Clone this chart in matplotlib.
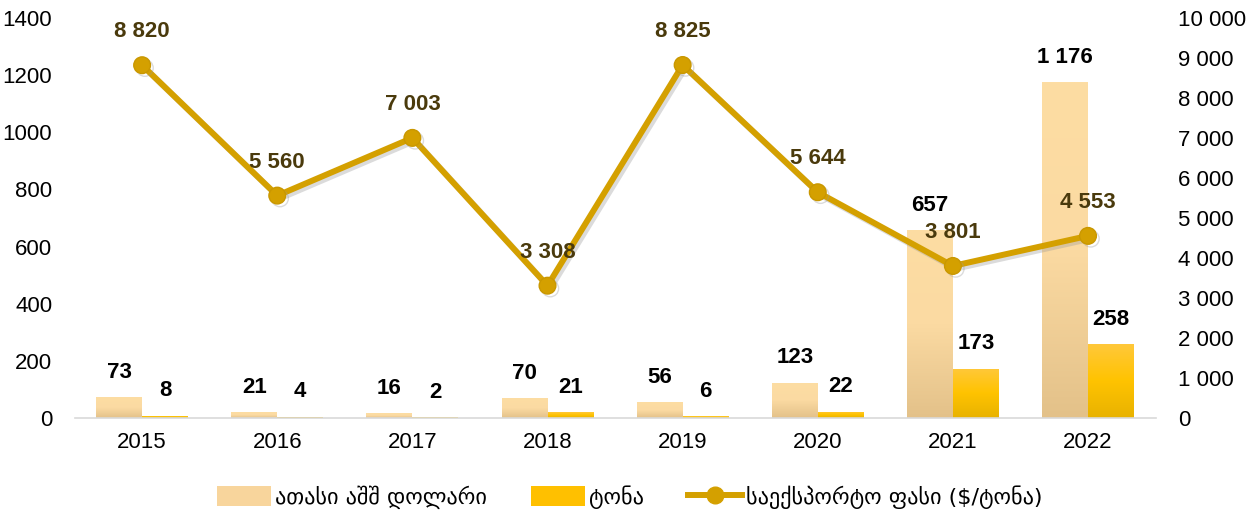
import numpy as np
import matplotlib
matplotlib.use("Agg")
import matplotlib.pyplot as plt
import matplotlib.patheffects as pe
from matplotlib.colors import LinearSegmentedColormap
from matplotlib.patches import Patch
from matplotlib.lines import Line2D

# data
years = ["2015", "2016", "2017", "2018", "2019", "2020", "2021", "2022"]
usd_thousand = [73, 21, 16, 70, 56, 123, 657, 1176]
tons = [8, 4, 2, 21, 6, 22, 173, 258]
price = [8820, 5560, 7003, 3308, 8825, 5644, 3801, 4553]

series_names = ["ათასი აშშ დოლარი", "ტონა", "საექსპორტო ფასი ($/ტონა)"]


def fmt(v):
    return f"{v:,}".replace(",", " ")


plt.rcParams["font.family"] = ["Liberation Sans", "DejaVu Sans"]

fig = plt.figure(figsize=(12.55, 5.19), dpi=100)
ax = fig.add_axes([0.0594, 0.1946, 0.8614, 0.7707])
ax2 = ax.twinx()

x = np.arange(len(years))
w = 0.34

peach = LinearSegmentedColormap.from_list("peach", ["#E3C189", "#FBDAA2", "#FDDDA3"])
gold = LinearSegmentedColormap.from_list("gold", ["#E8B200", "#FFC300", "#FFC83A"])

bars1 = ax.bar(x - w / 2, usd_thousand, w, color="#F8D59C", zorder=2)
bars2 = ax.bar(x + w / 2, tons, w, color="#FFC000", zorder=2)

grad = np.linspace(0, 1, 256).reshape(-1, 1)
for bars, cmap in [(bars1, peach), (bars2, gold)]:
    for b in bars:
        x0, y0 = b.get_x(), b.get_y()
        im = ax.imshow(grad, cmap=cmap, origin="lower", aspect="auto",
                       extent=[x0, x0 + b.get_width(), y0, y0 + b.get_height()],
                       zorder=2.1)
        im.set_clip_path(b)

ax.set_xlim(-0.5, len(years) - 0.5)
ax.set_ylim(0, 1400)
ax.set_yticks(range(0, 1401, 200))
ax.set_xticks(x)
ax.set_xticklabels(years)

lab_size = 16
for i, v in enumerate(usd_thousand):
    ax.annotate(fmt(v), (x[i] - w / 2, v), xytext=(0, 18), textcoords="offset points",
                ha="center", va="center", fontsize=lab_size, fontweight="bold", color="black")
for i, v in enumerate(tons):
    ax.annotate(fmt(v), (x[i] + w / 2, v), xytext=(0, 18), textcoords="offset points",
                ha="center", va="center", fontsize=lab_size, fontweight="bold", color="black")

line_color = "#D4A000"
ax2.plot(x, price, color=line_color, lw=4.3, marker="o", ms=12,
         markerfacecolor=line_color, markeredgecolor="#C99700", zorder=5,
         path_effects=[pe.SimpleLineShadow(offset=(2, -2), shadow_color="#999999", alpha=0.35),
                       pe.Normal()])
ax2.set_ylim(0, 10000)
ax2.set_yticks(range(0, 10001, 1000))
ax2.set_yticklabels([fmt(v) for v in range(0, 10001, 1000)])
for i, v in enumerate(price):
    ax2.annotate(fmt(v), (x[i], v), xytext=(0, 24), textcoords="offset points",
                 ha="center", va="center", fontsize=lab_size, fontweight="bold",
                 color="#4A3A0C", zorder=6)

for a in (ax, ax2):
    for s in a.spines.values():
        s.set_visible(False)
    a.tick_params(length=0, labelsize=16, colors="black")
ax.spines["bottom"].set_visible(True)
ax.spines["bottom"].set_color("#D9D9D9")
ax.spines["bottom"].set_linewidth(1.2)
ax.tick_params(axis="x", pad=10)
ax.tick_params(axis="y", pad=16)
ax2.tick_params(axis="y", pad=16)

handles = [
    Patch(facecolor="#F8D59C", edgecolor="none"),
    Patch(facecolor="#FFC000", edgecolor="none"),
    Line2D([0], [0], color=line_color, lw=4.3, marker="o", ms=12),
]
fig.legend(handles, series_names, loc="center", ncol=3, frameon=False,
           bbox_to_anchor=(0.502, 0.042), prop={"family": "DejaVu Sans", "size": 16},
           handlelength=2.4, handleheight=1.0, columnspacing=2.0, handletextpad=0.2)

fig.savefig("out.png", dpi=100)
